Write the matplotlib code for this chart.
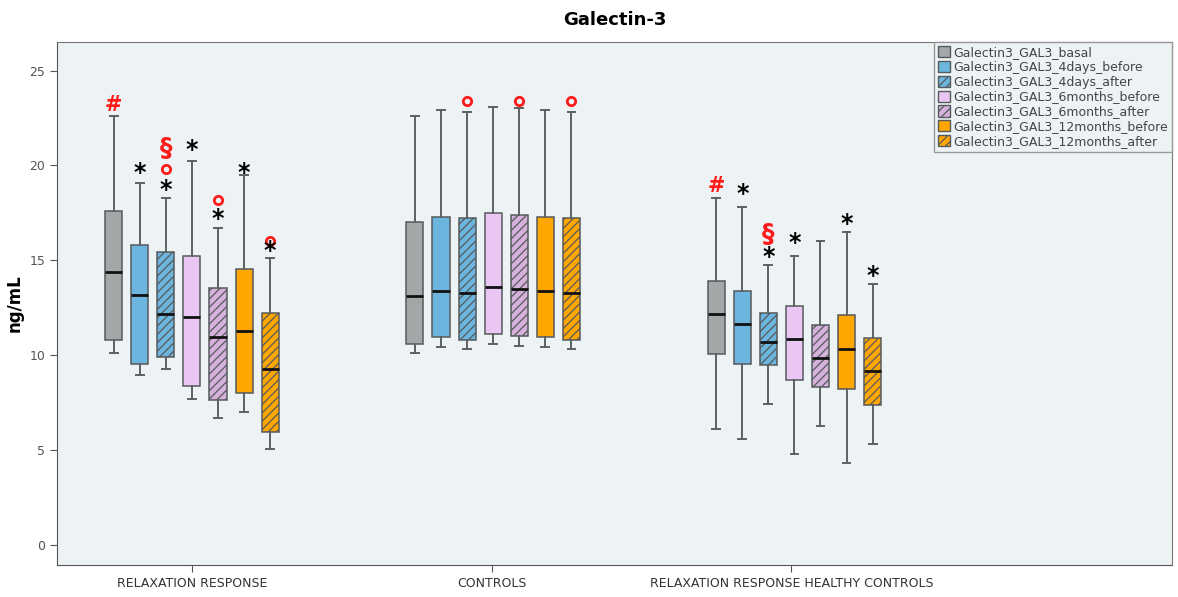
import matplotlib
matplotlib.use("Agg")
import matplotlib.pyplot as plt
from matplotlib.patches import Patch

# data (ng/mL)
groups = ["RELAXATION RESPONSE", "CONTROLS", "RELAXATION RESPONSE HEALTHY CONTROLS"]
series = ["Galectin3_GAL3_basal", "Galectin3_GAL3_4days_before", "Galectin3_GAL3_4days_after",
          "Galectin3_GAL3_6months_before", "Galectin3_GAL3_6months_after",
          "Galectin3_GAL3_12months_before", "Galectin3_GAL3_12months_after"]

# per group: one list per series -> [whislo, q1, median, q3, whishi]
rr_stats = [[10.1, 10.8, 14.4, 17.6, 22.6],
            [8.95, 9.55, 13.15, 15.8, 19.05],
            [9.25, 9.9, 12.15, 15.45, 18.3],
            [7.7, 8.4, 12.0, 15.25, 20.25],
            [6.7, 7.65, 10.95, 13.55, 16.7],
            [7.0, 8.0, 11.3, 14.55, 19.5],
            [5.05, 5.95, 9.25, 12.2, 15.1]]
ctrl_stats = [[10.1, 10.6, 13.1, 17.0, 22.6],
              [10.45, 10.95, 13.4, 17.3, 22.9],
              [10.35, 10.8, 13.3, 17.25, 22.8],
              [10.6, 11.1, 13.6, 17.5, 23.1],
              [10.5, 11.0, 13.5, 17.4, 23.0],
              [10.45, 10.95, 13.4, 17.3, 22.9],
              [10.35, 10.8, 13.3, 17.25, 22.8]]
rrhc_stats = [[6.1, 10.05, 12.15, 13.9, 18.3],
              [5.6, 9.55, 11.65, 13.4, 17.8],
              [7.45, 9.5, 10.7, 12.2, 14.75],
              [4.8, 8.7, 10.85, 12.6, 15.25],
              [6.25, 8.35, 9.85, 11.6, 16.0],
              [4.3, 8.2, 10.35, 12.1, 16.5],
              [5.35, 7.4, 9.15, 10.9, 13.75]]
all_stats = [rr_stats, ctrl_stats, rrhc_stats]

# significance marks: (symbol, group, series, value)
marks_text = [("#", 0, 0, 23.2), ("*", 0, 1, 19.6), ("§", 0, 2, 20.9), ("*", 0, 2, 18.7),
              ("*", 0, 3, 20.8), ("*", 0, 4, 17.2), ("*", 0, 5, 19.6), ("*", 0, 6, 15.5),
              ("#", 2, 0, 18.9), ("*", 2, 1, 18.5), ("§", 2, 2, 16.4), ("*", 2, 2, 15.2),
              ("*", 2, 3, 15.9), ("*", 2, 5, 16.9), ("*", 2, 6, 14.2)]
marks_circle = [(0, 2, 19.8), (0, 4, 18.2), (0, 6, 16.0),
                (1, 2, 23.4), (1, 4, 23.4), (1, 6, 23.4)]

colors = ["#a3a7a8", "#6cb5de", "#6cb5de", "#e9c7f2", "#d6b1dc", "#ffa600", "#ffa600"]
hatches = ["", "", "////", "", "////", "", "////"]

plt.rcParams["hatch.linewidth"] = 0.9
fig = plt.figure(figsize=(11.78, 5.97), dpi=100)
ax = fig.add_axes([0.0484, 0.0536, 0.9466, 0.876])
ax.set_facecolor("#edf3f5")

step = 0.087
width = 0.057

def pos(g, s):
    return g + (s - 3) * step + 0.005 * g

for g, grp in enumerate(all_stats):
    for s, st in enumerate(grp):
        d = dict(whislo=st[0], q1=st[1], med=st[2], q3=st[3], whishi=st[4], fliers=[])
        bp = ax.bxp([d], positions=[pos(g, s)], widths=width, patch_artist=True,
                    showfliers=False,
                    boxprops=dict(facecolor=colors[s], edgecolor="#555a5c", linewidth=1.1, hatch=hatches[s]),
                    medianprops=dict(color="#111111", linewidth=2),
                    whiskerprops=dict(color="#5c6163", linewidth=1.4),
                    capprops=dict(color="#5c6163", linewidth=1.4))
        for c in bp["caps"]:
            x0, x1 = c.get_xdata()
            m = (x0 + x1) / 2
            c.set_xdata([m - 0.013, m + 0.013])

for sym, g, s, v in marks_text:
    if sym == "*":
        ax.text(pos(g, s), v, "*", color="black", fontsize=17, fontweight="bold", ha="center", va="center")
    elif sym == "#":
        ax.text(pos(g, s), v, "#", color="#ff1a1a", fontsize=15, fontweight="bold", ha="center", va="center")
    else:
        ax.text(pos(g, s), v, "§", color="#ff1a1a", fontsize=18, fontweight="bold", ha="center", va="center")

for g, s, v in marks_circle:
    ax.plot(pos(g, s), v, "o", ms=6, mfc="none", mec="#ff1a1a", mew=2)

ax.set_xlim(-0.45, 3.27)
ax.set_ylim(-1.05, 26.5)
ax.set_yticks([0, 5, 10, 15, 20, 25])
ax.set_xticks([0, 1, 2])
ax.set_xticklabels(groups, fontsize=9, color="#333333")
ax.tick_params(axis="y", labelsize=9, labelcolor="#555555", color="#555555", length=5)
ax.tick_params(axis="x", color="#555555", length=5)
for sp in ax.spines.values():
    sp.set_color("#777777")
ax.spines["left"].set_color("#555555")
ax.spines["bottom"].set_color("#555555")

ax.set_ylabel("ng/mL", fontsize=12, fontweight="bold")
ax.set_title("Galectin-3", fontsize=13, fontweight="bold", pad=12)

handles = [Patch(facecolor=colors[i], edgecolor="#555a5c", hatch=hatches[i], label=series[i])
           for i in range(len(series))]
leg = ax.legend(handles=handles, loc="upper right", borderaxespad=0, fontsize=9.0,
                handlelength=1.0, handleheight=1.0, handletextpad=0.25, labelspacing=0.15,
                borderpad=0.3, fancybox=False, framealpha=1, edgecolor="#999999", facecolor="#edf3f5")
for t in leg.get_texts():
    t.set_color("#444444")

fig.savefig("out.png", dpi=100, facecolor="white")
